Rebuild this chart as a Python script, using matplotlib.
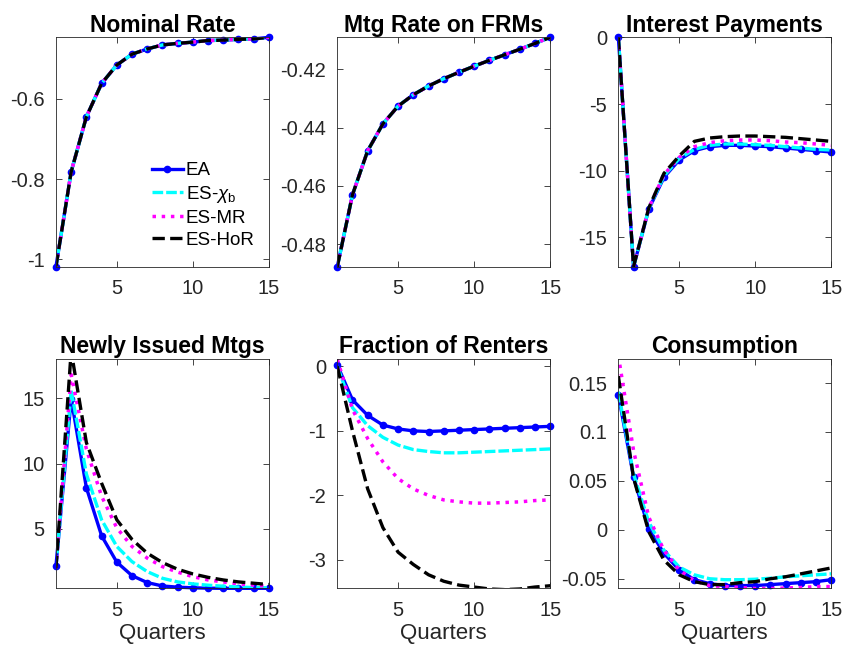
import numpy as np
import matplotlib
matplotlib.use("Agg")
import matplotlib.pyplot as plt

plt.rcParams['font.family'] = ['Liberation Sans', 'DejaVu Sans']
plt.rcParams['mathtext.fontset'] = 'custom'
plt.rcParams['mathtext.rm'] = 'Liberation Sans'
plt.rcParams['mathtext.it'] = 'Liberation Sans:italic'

quarters = np.arange(1, 16)
labels = ['EA', r'ES-$\chi_\mathrm{b}$', 'ES-MR', 'ES-HoR']
titles = ['Nominal Rate', 'Mtg Rate on FRMs', 'Interest Payments',
          'Newly Issued Mtgs', 'Fraction of Renters', 'Consumption']

# Nominal Rate (all four series overlap)
nominal = [-1.018, -0.782, -0.645, -0.562, -0.516, -0.489, -0.476, -0.466,
           -0.462, -0.459, -0.455, -0.454, -0.452, -0.451, -0.447]
# Mortgage rate on FRMs (all four series overlap)
mtg_rate = [-0.4877, -0.463, -0.4479, -0.4387, -0.4326, -0.4287, -0.4257, -0.4232,
            -0.4210, -0.4189, -0.4169, -0.4150, -0.4131, -0.4111, -0.4090]

# Interest Payments
int_ea = [0, -17.2, -12.9, -10.5, -9.2, -8.5, -8.2, -8.1, -8.1, -8.15, -8.2, -8.3, -8.4, -8.5, -8.6]
int_chi = [0, -17.2, -12.85, -10.4, -9.1, -8.4, -8.1, -8.0, -8.0, -8.05, -8.1, -8.2, -8.3, -8.4, -8.45]
int_mr = [0, -17.2, -12.8, -10.3, -9.0, -8.2, -7.9, -7.75, -7.7, -7.7, -7.75, -7.85, -7.9, -8.0, -8.1]
int_hor = [0, -17.2, -12.8, -10.2, -8.9, -7.8, -7.55, -7.45, -7.4, -7.4, -7.45, -7.5, -7.6, -7.7, -7.8]

# Newly Issued Mortgages
new_ea = [2.18, 14.95, 8.15, 4.48, 2.46, 1.43, 0.9, 0.64, 0.55, 0.5, 0.47, 0.46, 0.46, 0.46, 0.46]
new_chi = [2.1, 15.6, 9.2, 5.7, 3.66, 2.5, 1.74, 1.23, 0.95, 0.8, 0.7, 0.62, 0.56, 0.52, 0.5]
new_mr = [2.0, 16.8, 11.1, 7.5, 5.08, 3.66, 2.77, 2.12, 1.7, 1.35, 1.1, 0.95, 0.8, 0.7, 0.62]
new_hor = [2.0, 18.6, 11.6, 8.5, 5.7, 4.2, 3.15, 2.43, 1.92, 1.56, 1.3, 1.1, 0.95, 0.85, 0.75]

# Fraction of Renters
rent_ea = [0.02, -0.52, -0.76, -0.91, -0.97, -1.0, -1.01, -1.0, -0.99, -0.98, -0.97, -0.96, -0.95, -0.94, -0.93]
rent_chi = [0.0, -0.64, -0.92, -1.1, -1.22, -1.29, -1.32, -1.34, -1.34, -1.33, -1.32, -1.31, -1.30, -1.29, -1.28]
rent_mr = [0.11, -0.67, -1.12, -1.48, -1.74, -1.9, -2.0, -2.07, -2.1, -2.12, -2.12, -2.11, -2.1, -2.08, -2.07]
rent_hor = [0.0, -1.0, -1.9, -2.5, -2.88, -3.07, -3.23, -3.33, -3.39, -3.42, -3.45, -3.46, -3.45, -3.42, -3.40]

# Consumption
cons_ea = [0.138, 0.054, 0.001, -0.024, -0.041, -0.051, -0.055, -0.057, -0.057, -0.057, -0.056, -0.055, -0.054, -0.053, -0.051]
cons_chi = [0.141, 0.057, 0.008, -0.021, -0.038, -0.046, -0.050, -0.051, -0.051, -0.0505, -0.0495, -0.048, -0.047, -0.046, -0.045]
cons_mr = [0.178, 0.081, 0.013, -0.021, -0.041, -0.052, -0.057, -0.058, -0.059, -0.060, -0.060, -0.0595, -0.059, -0.058, -0.058]
cons_hor = [0.157, 0.053, -0.002, -0.031, -0.046, -0.053, -0.056, -0.056, -0.054, -0.053, -0.050, -0.048, -0.045, -0.042, -0.039]

panels = [
    [nominal, nominal, nominal, nominal],
    [mtg_rate, mtg_rate, mtg_rate, mtg_rate],
    [int_ea, int_chi, int_mr, int_hor],
    [new_ea, new_chi, new_mr, new_hor],
    [rent_ea, rent_chi, rent_mr, rent_hor],
    [cons_ea, cons_chi, cons_mr, cons_hor],
]
ylims = [(-1.0185, -0.447), (-0.4877, -0.409), (-17.2, 0.0),
         (0.46, 18.0), (-3.44, 0.115), (-0.0598, 0.1746)]
yticks = [[-1, -0.8, -0.6], [-0.48, -0.46, -0.44, -0.42], [-15, -10, -5, 0],
          [5, 10, 15], [-3, -2, -1, 0], [-0.05, 0, 0.05, 0.1, 0.15]]
yticklabels = [['-1', '-0.8', '-0.6'], ['-0.48', '-0.46', '-0.44', '-0.42'],
               ['-15', '-10', '-5', '0'], ['5', '10', '15'],
               ['-3', '-2', '-1', '0'], ['-0.05', '0', '0.05', '0.1', '0.15']]

styles = [dict(color='#0000ff', ls='-', lw=2.4, marker='o', ms=4.5, clip_on=False),
          dict(color='#00ffff', ls=(0, (3.2, 0.9)), lw=2.4),
          dict(color='#ff00ff', ls=':', lw=2.5),
          dict(color='black', ls='--', lw=2.4)]

grey = '#262626'
fig = plt.figure(figsize=(8.43, 6.48), dpi=100)
lefts = [0.0664, 0.4001, 0.7335]
bottoms = [0.5884, 0.0921]

for i in range(6):
    r, c = divmod(i, 3)
    ax = fig.add_axes([lefts[c], bottoms[r], 0.2525, 0.354])
    for s, y, lab in zip(styles, panels[i], labels):
        ax.plot(quarters, y, label=lab, **s)
    ax.set_xlim(1, 15)
    ax.set_ylim(*ylims[i])
    ax.set_xticks([5, 10, 15])
    ax.set_yticks(yticks[i])
    ax.set_yticklabels(yticklabels[i])
    ax.tick_params(direction='in', top=True, right=True, length=4, width=0.6,
                   colors=grey, labelsize=14.5)
    ax.tick_params(axis='x', pad=9)
    ax.tick_params(axis='y', pad=8)
    for sp in ax.spines.values():
        sp.set_color(grey)
        sp.set_linewidth(0.6)
    ax.set_title(titles[i], fontsize=16.5, fontweight='bold', pad=4)
    if r == 1:
        ax.set_xlabel('Quarters', fontsize=16, color=grey, labelpad=2)
    if i == 0:
        ax.legend(loc='lower right', bbox_to_anchor=(0.985, 0.03), frameon=False,
                  fontsize=13.5, handlelength=1.65, handletextpad=0.15,
                  labelspacing=0.25, borderaxespad=0.2)

fig.savefig('out.png', dpi=100)
